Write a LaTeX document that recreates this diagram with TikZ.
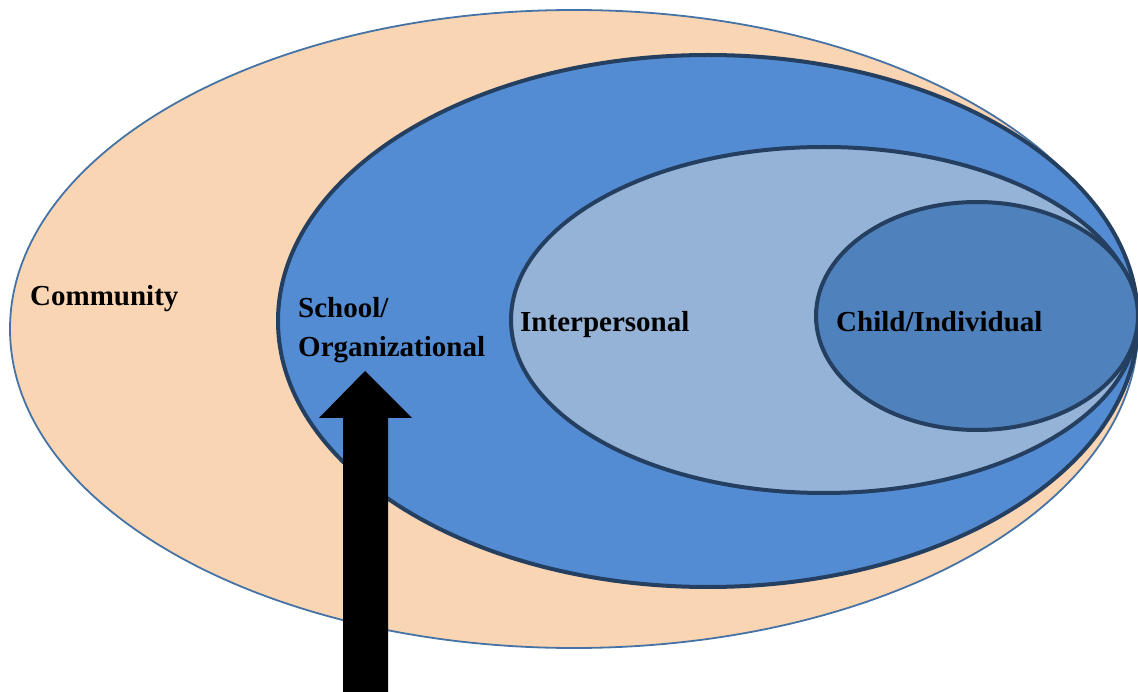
\documentclass[tikz,border=0pt]{standalone}
\usepackage{fontspec}
\setmainfont{Liberation Serif}
\definecolor{peach}{RGB}{250,213,180}
\definecolor{rimblue}{RGB}{70,115,165}
\definecolor{darkrim}{RGB}{36,63,96}
\definecolor{schoolblue}{RGB}{83,140,211}
\definecolor{paleblue}{RGB}{149,179,215}
\definecolor{childblue}{RGB}{79,129,189}
\tikzset{
  level/.style={draw=darkrim,line width=4pt},
  label/.style={inner sep=0pt,font=\bfseries\fontsize{29}{39}\selectfont}
}
\begin{document}
\begin{tikzpicture}[x=1pt,y=-1pt]
    \useasboundingbox (0,0) rectangle (1138,692);
    \filldraw[fill=peach,draw=rimblue,line width=1.8pt] (574,329) ellipse (564 and 319);
    \filldraw[level,fill=schoolblue] (708,321) ellipse (430 and 266);
    \filldraw[level,fill=paleblue] (824,320) ellipse (313 and 173);
    \filldraw[level,fill=childblue] (977,316) ellipse (161 and 114);
    \node[label,anchor=base west] (community) at (30,306) {Community};
    \node[label,anchor=north west,align=left] (school) at (298,297) {School/\\Organizational};
    \node[label,anchor=base west] (inter) at (520,332) {Interpersonal};
    \node[label,anchor=base west] (child) at (836,332) {Child/Individual};
    \coordinate (tip) at (365,371);
    \fill[black] (343,692) -- (343,418) -- (319,418) -- (tip) -- (412,418) -- (388,418) -- (388,692) -- cycle;
\end{tikzpicture}
\end{document}
